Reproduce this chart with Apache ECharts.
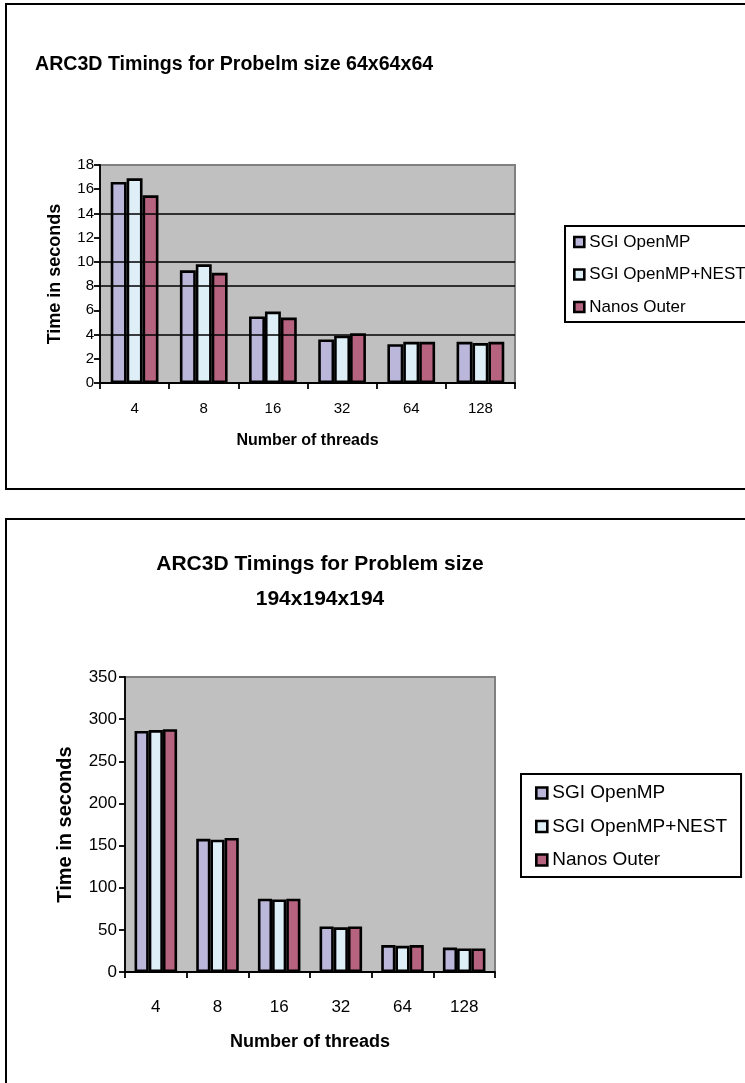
<!DOCTYPE html>
<html>
<head>
<meta charset="utf-8">
<script src="https://cdn.jsdelivr.net/npm/echarts@6/dist/echarts.min.js"></script>
<style>
  html, body { margin: 0; padding: 0; background: #fff; }
  #chart { width: 745px; height: 1083px; }
</style>
</head>
<body>
<div id="chart"></div>
<script>
const categories = ['4', '8', '16', '32', '64', '128'];
const seriesNames = ['SGI OpenMP', 'SGI OpenMP+NEST', 'Nanos Outer'];

// Problem size 64x64x64
const smallSgi = [16.6, 9.3, 5.5, 3.6, 3.2, 3.4];
const smallNest = [16.9, 9.8, 5.9, 3.9, 3.4, 3.3];
const smallNanos = [15.5, 9.1, 5.4, 4.1, 3.4, 3.4];
const smallGridLines = [4, 8, 10, 14];

// Problem size 194x194x194
const largeSgi = [286, 158, 87, 54, 32, 29];
const largeNest = [287, 157, 86, 53, 31, 28];
const largeNanos = [288, 159, 87, 54, 32, 28];

const colors = ['#BBB7DA', '#DEEFF7', '#B5637F'];
const FONT = '"Liberation Sans", Arial, sans-serif';

const chart = echarts.init(document.getElementById('chart'), null, { renderer: 'canvas' });

function bars(data, idx, gridIdx) {
  return {
    name: seriesNames[idx],
    type: 'bar',
    xAxisIndex: gridIdx,
    yAxisIndex: gridIdx,
    data: data,
    z: 3,
    barGap: '0%',
    barCategoryGap: '31%',
    itemStyle: { color: colors[idx], borderColor: '#000', borderWidth: 2.6 },
    emphasis: { disabled: true }
  };
}

function xAxis(gridIdx, fontSize, margin, nameGap, nameSize) {
  return {
    type: 'category',
    gridIndex: gridIdx,
    data: categories,
    boundaryGap: true,
    axisLine: { show: true, lineStyle: { color: '#000', width: 1.8 } },
    axisTick: { show: true, length: 6, lineStyle: { color: '#000', width: 1.8 } },
    axisLabel: { color: '#000', fontSize: fontSize, fontFamily: FONT, margin: margin, interval: 0 },
    splitLine: { show: false },
    name: 'Number of threads',
    nameLocation: 'middle',
    nameGap: nameGap,
    nameTextStyle: { color: '#000', fontSize: nameSize, fontWeight: 'bold', fontFamily: FONT }
  };
}

function yAxis(gridIdx, max, interval, fontSize, margin, nameGap, nameSize) {
  return {
    type: 'value',
    gridIndex: gridIdx,
    min: 0,
    max: max,
    interval: interval,
    axisLine: { show: true, lineStyle: { color: '#000', width: 1.8 } },
    axisTick: { show: true, length: 6, lineStyle: { color: '#000', width: 1.8 } },
    axisLabel: { color: '#000', fontSize: fontSize, fontFamily: FONT, margin: margin },
    splitLine: { show: false },
    name: 'Time in seconds',
    nameLocation: 'middle',
    nameRotate: 90,
    nameGap: nameGap,
    nameTextStyle: { color: '#000', fontSize: nameSize, fontWeight: 'bold', fontFamily: FONT }
  };
}

const option = {
  animation: false,
  backgroundColor: '#fff',
  graphic: [
    { type: 'rect', z: 0, silent: true, shape: { x: 6, y: 4, width: 900, height: 485 },
      style: { fill: 'transparent', stroke: '#000', lineWidth: 2 } },
    { type: 'rect', z: 0, silent: true, shape: { x: 6, y: 519, width: 900, height: 700 },
      style: { fill: 'transparent', stroke: '#000', lineWidth: 2 } }
  ],
  title: [
    { text: 'ARC3D Timings for Probelm size 64x64x64', left: 35, top: 55, padding: 0,
      textStyle: { fontSize: 19.6, fontWeight: 'bold', color: '#000', fontFamily: FONT } },
    { text: 'ARC3D Timings for Problem size\n194x194x194', left: 320, top: 547, padding: 0,
      textAlign: 'center',
      textStyle: { fontSize: 21, fontWeight: 'bold', color: '#000', fontFamily: FONT, lineHeight: 35 } }
  ],
  legend: [
    { orient: 'vertical', left: 565, top: 226, padding: [6, 40, 5, 8],
      itemWidth: 10, itemHeight: 10, itemGap: 12.5, icon: 'rect',
      borderColor: '#000', borderWidth: 2, backgroundColor: '#fff',
      itemStyle: { borderColor: '#000', borderWidth: 2.6 },
      textStyle: { fontSize: 17, lineHeight: 20, color: '#000', fontFamily: FONT },
      selectedMode: false, data: seriesNames },
    { orient: 'vertical', left: 521, top: 774, padding: [8, 14, 6, 14],
      itemWidth: 11, itemHeight: 11, itemGap: 11.5, icon: 'rect',
      borderColor: '#000', borderWidth: 2, backgroundColor: '#fff',
      itemStyle: { borderColor: '#000', borderWidth: 2.6 },
      textStyle: { fontSize: 19, lineHeight: 22, color: '#000', fontFamily: FONT },
      selectedMode: false, data: seriesNames }
  ],
  grid: [
    { left: 100, top: 165, width: 415, height: 218, show: true,
      backgroundColor: '#C0C0C0', borderColor: '#808080', borderWidth: 2 },
    { left: 125, top: 677, width: 370, height: 295, show: true,
      backgroundColor: '#C0C0C0', borderColor: '#808080', borderWidth: 2 }
  ],
  xAxis: [
    xAxis(0, 15, 18, 50, 16),
    xAxis(1, 17, 27, 61, 18)
  ],
  yAxis: [
    yAxis(0, 18, 2, 15, 6, 36, 18),
    yAxis(1, 350, 50, 17, 8, 50, 20)
  ],
  series: [
    {
      name: 'gridlines',
      type: 'line',
      xAxisIndex: 0,
      yAxisIndex: 0,
      data: [],
      z: 1,
      silent: true,
      markLine: {
        silent: true,
        symbol: ['none', 'none'],
        label: { show: false },
        lineStyle: { color: '#000', width: 1.6, type: 'solid' },
        emphasis: { disabled: true },
        data: smallGridLines.map(v => ({ yAxis: v }))
      }
    },
    bars(smallSgi, 0, 0),
    bars(smallNest, 1, 0),
    bars(smallNanos, 2, 0),
    bars(largeSgi, 0, 1),
    bars(largeNest, 1, 1),
    bars(largeNanos, 2, 1)
  ]
};

chart.setOption(option);
</script>
</body>
</html>
